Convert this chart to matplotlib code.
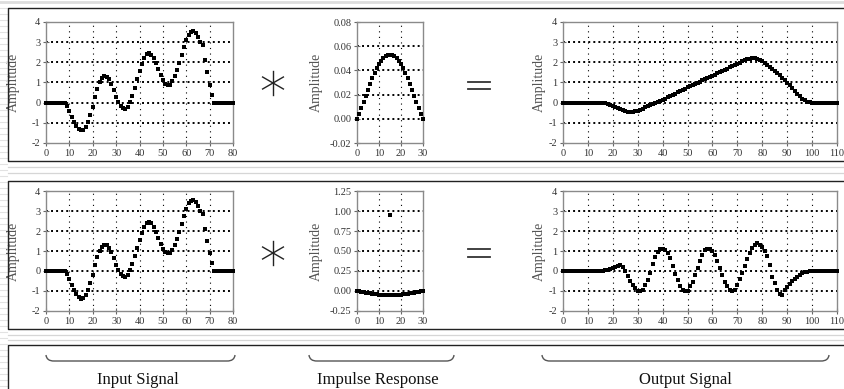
import matplotlib
matplotlib.use('Agg')
import matplotlib.pyplot as plt
from matplotlib.lines import Line2D
from matplotlib.path import Path
from matplotlib.patches import PathPatch
import numpy as np

plt.rcParams['font.family'] = ['Liberation Serif', 'DejaVu Serif']
plt.rcParams['axes.unicode_minus'] = False

# ---------------- data ----------------
input_signal = [0, 0, 0, 0, 0, 0, 0, 0,
                -0.02, -0.15, -0.4, -0.7, -0.95, -1.15, -1.3, -1.38, -1.35, -1.2, -0.95, -0.6,
                -0.2, 0.3, 0.7, 1.0, 1.22, 1.32, 1.28, 1.15, 0.95, 0.65,
                0.3, 0.05, -0.15, -0.27, -0.3, -0.2, 0.05, 0.35, 0.75, 1.15,
                1.55, 1.9, 2.2, 2.4, 2.45, 2.38, 2.2, 1.95, 1.65, 1.35,
                1.1, 0.95, 0.88, 0.9, 1.05, 1.3, 1.6, 1.95, 2.35, 2.75,
                3.1, 3.38, 3.52, 3.55, 3.45, 3.25, 3.0, 2.85, 2.1, 1.5,
                0.9, 0.4,
                0, 0, 0, 0, 0, 0, 0, 0, 0]

impulse_lowpass = [0.000, 0.004, 0.009, 0.014, 0.019, 0.024, 0.029, 0.034, 0.038, 0.042,
                   0.045, 0.048, 0.050, 0.052, 0.053, 0.053, 0.053, 0.052, 0.050, 0.048,
                   0.045, 0.042, 0.038, 0.034, 0.029, 0.024, 0.019, 0.014, 0.009, 0.004,
                   0.000]

impulse_highpass = [0.000, -0.004, -0.009, -0.014, -0.019, -0.024, -0.029, -0.034, -0.038, -0.042,
                    -0.045, -0.048, -0.050, -0.052, -0.053, 0.947, -0.053, -0.052, -0.050, -0.048,
                    -0.045, -0.042, -0.038, -0.034, -0.029, -0.024, -0.019, -0.014, -0.009, -0.004,
                    0.000]

output_lowpass = [0] * 15 + [
    -0.01, -0.02, -0.04, -0.07, -0.11, -0.16, -0.21, -0.27, -0.32, -0.37, -0.41, -0.44,
    -0.45, -0.45, -0.43, -0.40, -0.35, -0.29, -0.23, -0.17, -0.12, -0.07, -0.02,
    0.03, 0.08, 0.14, 0.2, 0.26, 0.32, 0.38, 0.45, 0.52, 0.58, 0.64, 0.70, 0.76, 0.82,
    0.88, 0.93, 0.99, 1.04, 1.10, 1.15, 1.21, 1.27, 1.33, 1.39, 1.45, 1.51, 1.57, 1.63,
    1.69, 1.75, 1.81, 1.87, 1.93, 1.99, 2.05, 2.11,
    2.15, 2.19, 2.21, 2.21, 2.18, 2.13, 2.06, 1.98, 1.89, 1.79, 1.68, 1.57, 1.46, 1.35,
    1.23, 1.11, 0.99, 0.86, 0.73, 0.59, 0.45, 0.32, 0.2, 0.11, 0.05, 0.02, 0.0] + [0] * 10

output_highpass = [0] * 15 + [
    0.01, 0.02, 0.04, 0.07, 0.11, 0.16, 0.21, 0.27,
    0.30, 0.22, 0.01, -0.26, -0.50, -0.70, -0.87, -0.98, -1.02, -0.93, -0.72, -0.43,
    -0.08, 0.37, 0.72, 0.97, 1.08, 1.12, 1.05, 0.89, 0.63, 0.27,
    -0.15, -0.47, -0.73, -0.93, -1.02, -0.98, -0.77, -0.53, -0.18, 0.16,
    0.51, 0.80, 1.03, 1.12, 1.12, 1.02, 0.81, 0.50, 0.14, -0.22,
    -0.53, -0.76, -0.93, -1.02, -0.94, -0.70, -0.42, -0.10, 0.24, 0.60,
    0.91, 1.17, 1.31, 1.38, 1.32, 1.19, 1.0, 0.75, 0.3,
    -0.3, -0.6, -0.95, -1.15, -1.22, -0.95, -0.8, -0.65, -0.5, -0.38, -0.28, -0.19,
    -0.12, -0.07, -0.03, -0.01] + [0] * 11

signal_yticks = [-2, -1, 0, 1, 2, 3, 4]
input_xticks = [0, 10, 20, 30, 40, 50, 60, 70, 80]
output_xticks = [0, 10, 20, 30, 40, 50, 60, 70, 80, 90, 100, 110]
impulse_xticks = [0, 10, 20, 30]
lowpass_yticks = [-0.02, 0.00, 0.02, 0.04, 0.06, 0.08]
highpass_yticks = [-0.25, 0.00, 0.25, 0.50, 0.75, 1.00, 1.25]
bottom_labels = ['Input Signal', 'Impulse Response', 'Output Signal']

# ---------------- figure ----------------
W, H = 845, 389
fig = plt.figure(figsize=(W / 100, H / 100), dpi=100)
fig.patch.set_facecolor('white')


def rect(x0, y0, x1, y1):
    return [x0 / W, 1 - y1 / H, (x1 - x0) / W, (y1 - y0) / H]


def fx(x):
    return x / W


def fy(y):
    return 1 - y / H


def style(ax, xticks, yticks, fmt=None):
    ax.set_xlim(xticks[0], xticks[-1])
    ax.set_ylim(yticks[0], yticks[-1])
    ax.set_xticks(xticks)
    ax.set_yticks(yticks)
    if fmt:
        ax.set_yticklabels([fmt % v for v in yticks])
    for sp in ax.spines.values():
        sp.set_color('#8a8a8a')
        sp.set_linewidth(1.0)
    ax.tick_params(direction='inout', length=5, width=0.8, color='#666666',
                   labelsize=7.5, labelcolor='#333333', pad=1.5)
    for v in yticks[1:-1]:
        ax.axhline(v, color='black', lw=1.4, ls=(0, (1, 1.6)), zorder=1)
    for v in xticks[1:-1]:
        ax.axvline(v, color='black', lw=0.8, ls=(0, (1, 4)), zorder=1)


def dots(ax, vals, ms=2.7):
    ax.plot(np.arange(len(vals)), vals, 's', ms=ms, color='black', mew=0,
            zorder=3, clip_on=False)


rows = [(22, 143, impulse_lowpass, output_lowpass, lowpass_yticks, '%.2f'),
        (191, 311, impulse_highpass, output_highpass, highpass_yticks, '%.2f')]

for (yt, yb, imp, out, imp_ticks, fmt) in rows:
    a1 = fig.add_axes(rect(46, yt, 233, yb))
    style(a1, input_xticks, signal_yticks)
    dots(a1, input_signal)
    a1.set_ylabel('Amplitude', fontsize=10, color='#555555')
    a1.yaxis.set_label_coords(-26 / 187, 0.5)

    a2 = fig.add_axes(rect(357, yt, 423, yb))
    style(a2, impulse_xticks, imp_ticks, fmt)
    dots(a2, imp)
    a2.set_ylabel('Amplitude', fontsize=10, color='#555555')
    a2.yaxis.set_label_coords(-34 / 66, 0.5)

    a3 = fig.add_axes(rect(563, yt, 837, yb))
    style(a3, output_xticks, signal_yticks)
    dots(a3, out, ms=2.9)
    a3.set_ylabel('Amplitude', fontsize=10, color='#555555')
    a3.yaxis.set_label_coords(-17 / 274, 0.5)

# ---------------- decorations ----------------
def fline(xs, ys, **kw):
    fig.add_artist(Line2D([fx(x) for x in xs], [fy(y) for y in ys],
                          transform=fig.transFigure, **kw))

# page background stripes
for y in np.arange(2, H, 6):
    fline([0, 7], [y, y], color='#e2e2e2', lw=0.8)
fline([0, W], [1.5, 1.5], color='#dddddd', lw=2)
for y in (167, 173, 335, 340):
    fline([8, W], [y, y], color='#d6d6d6', lw=0.9)

# boxes
for (top, bot) in [(8, 161), (181, 329), (345, 400)]:
    fline([W + 5, 8, 8, W + 5], [top, top, bot, bot], color='#222222', lw=1.0)

# convolution and equals symbols
for cy, ey in [(83, (81.7, 89.3)), (253, (248.5, 256.5))]:
    cx, r = 273, 12
    for ang in (90, 30, 150):
        a = np.deg2rad(ang)
        fline([cx - r * np.cos(a), cx + r * np.cos(a)],
              [cy - r * np.sin(a), cy + r * np.sin(a)], color='#222222', lw=1.0)
    for yy in ey:
        fline([468, 490], [yy, yy], color='#333333', lw=1.3)

# braces and labels
brace_spans = [(46, 235), (309, 454), (542, 829)]
label_centers = [138, 378, 685]
by = 361
for (x0, x1), lab, xc in zip(brace_spans, bottom_labels, label_centers):
    codes = [Path.MOVETO, Path.CURVE4, Path.CURVE4, Path.CURVE4,
             Path.LINETO, Path.CURVE4, Path.CURVE4, Path.CURVE4]
    verts = [(x0, by - 6), (x0 + 0.5, by - 2), (x0 + 3, by), (x0 + 8, by),
             (x1 - 8, by), (x1 - 3, by), (x1 - 0.5, by - 2), (x1, by - 6)]
    path = Path([(fx(x), fy(y)) for x, y in verts], codes)
    fig.add_artist(PathPatch(path, transform=fig.transFigure, fill=False,
                             edgecolor='#555555', lw=1.0))
    fig.text(fx(xc), fy(380), lab, fontsize=12, ha='center', va='center',
             color='#111111')

fig.savefig('out.png', dpi=100)
